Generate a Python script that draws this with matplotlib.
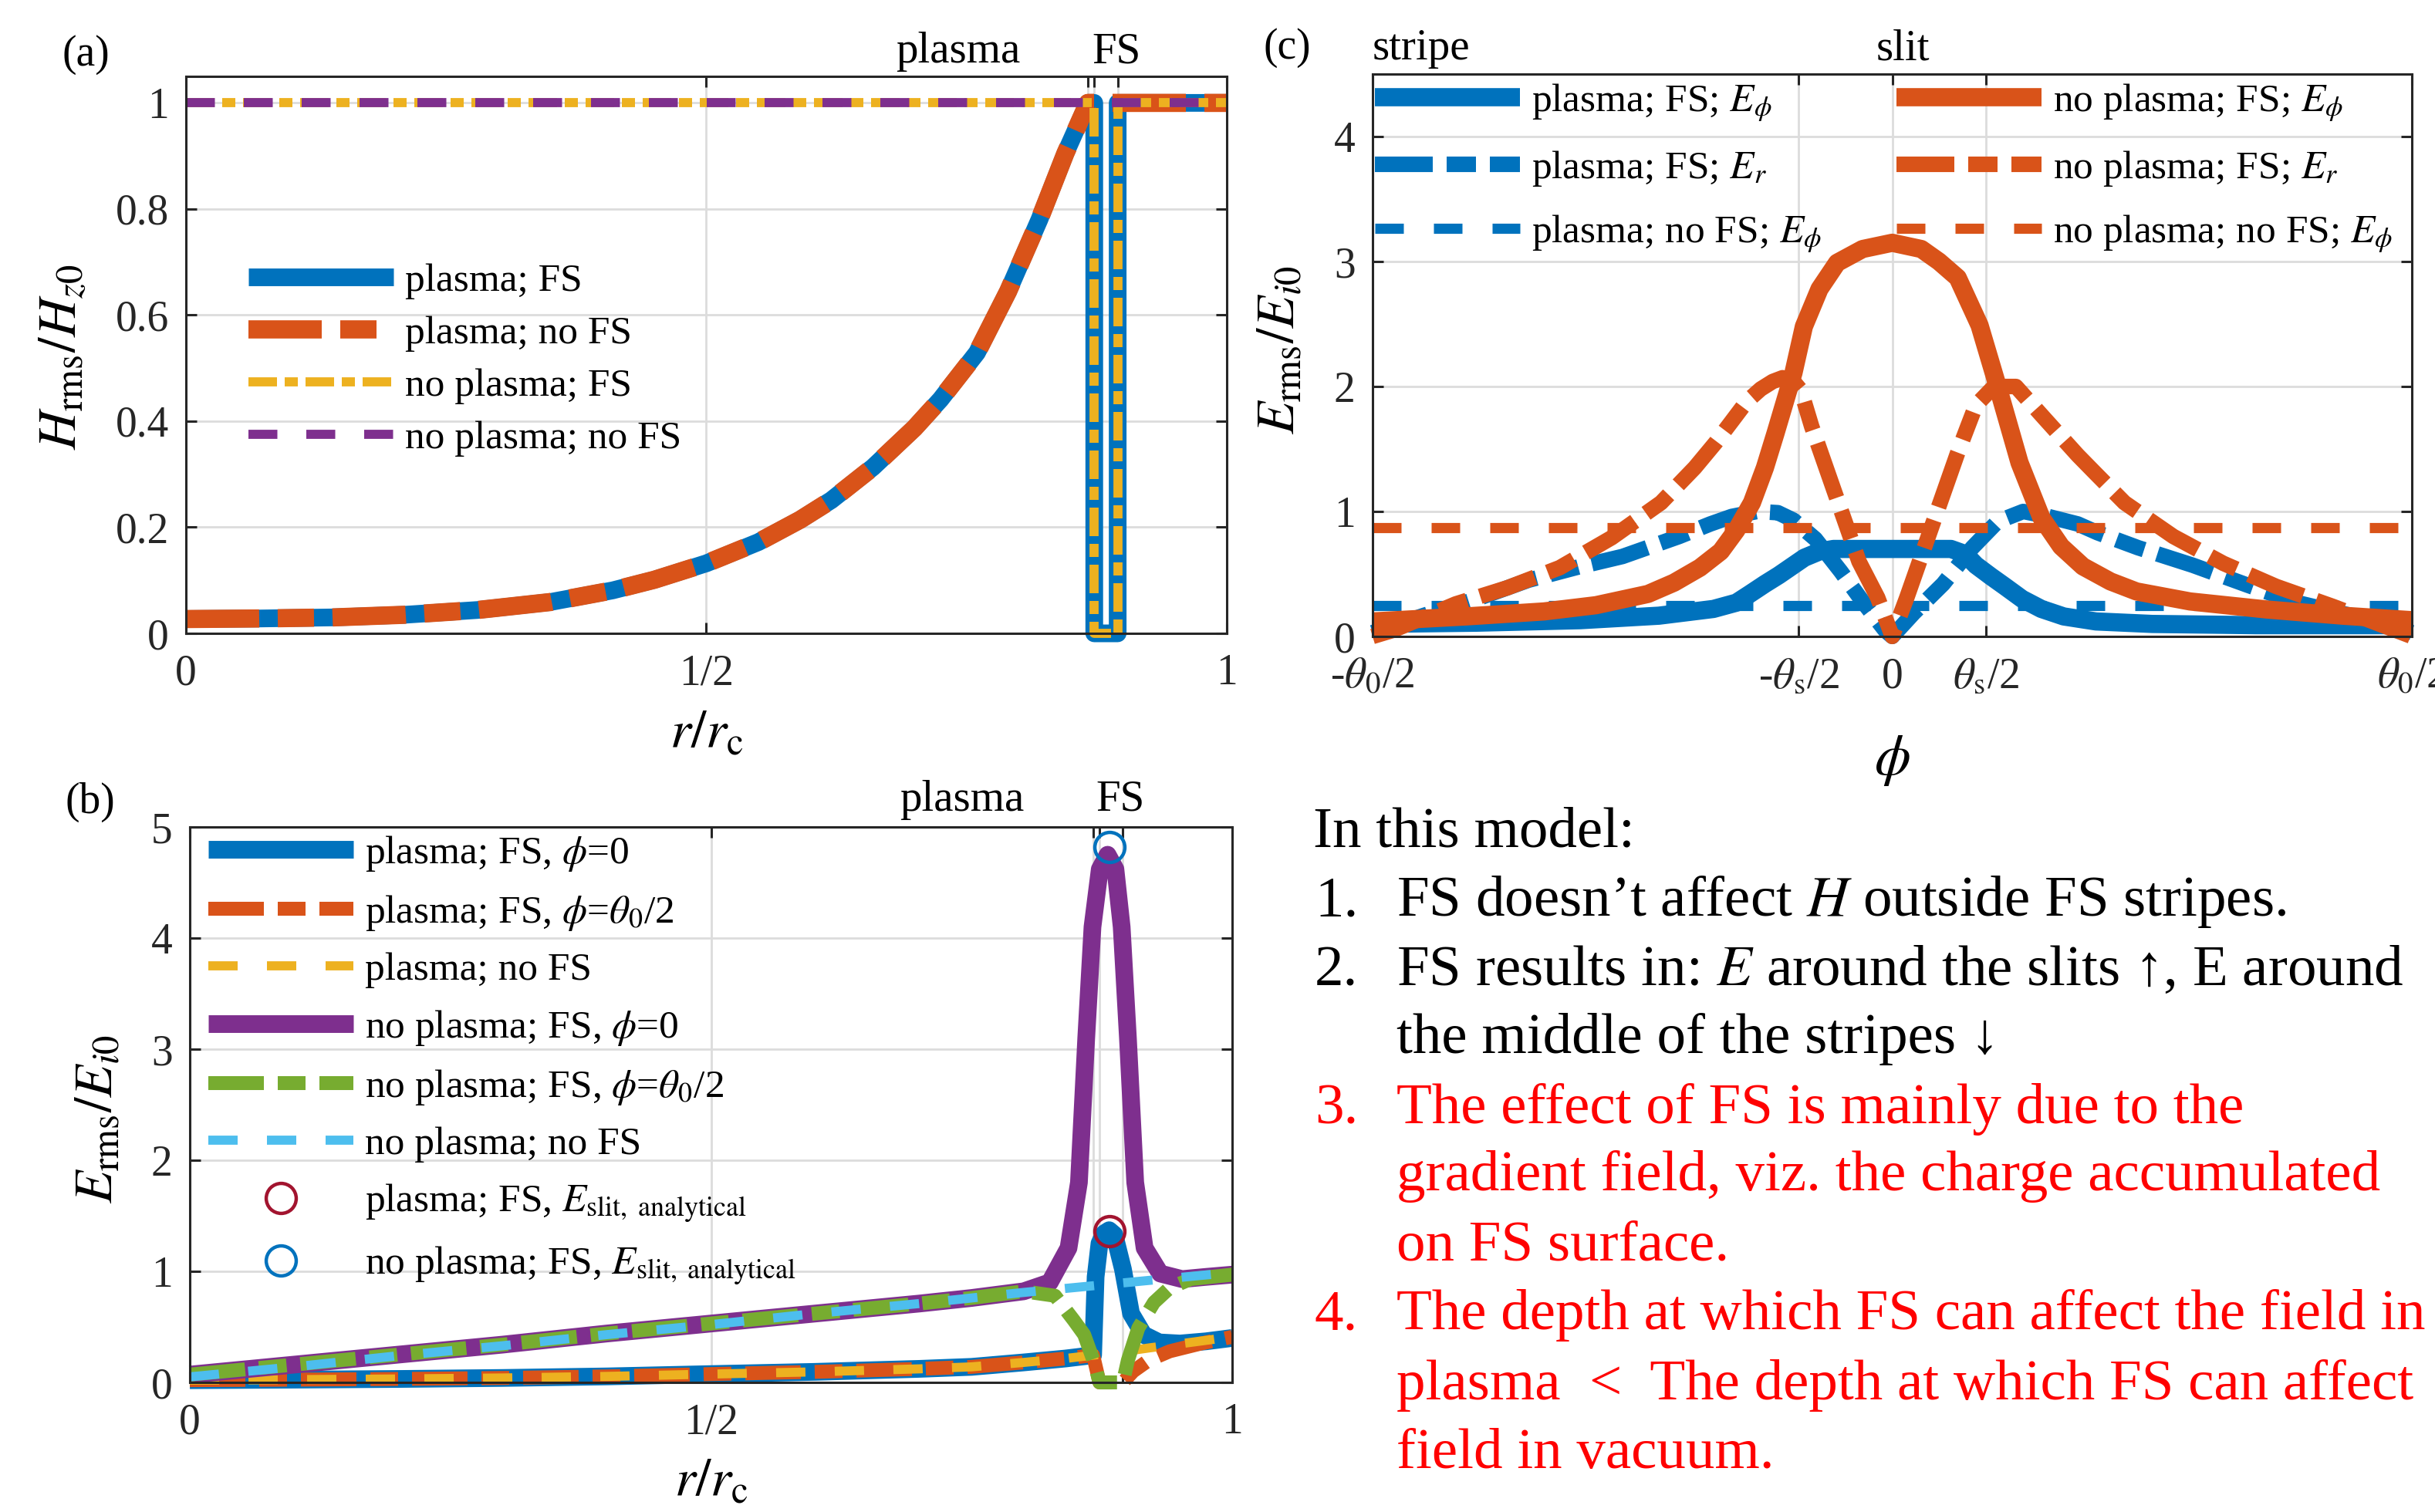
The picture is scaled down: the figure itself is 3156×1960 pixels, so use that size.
import matplotlib
matplotlib.use('Agg')
import matplotlib.pyplot as plt

plt.rcParams['font.family'] = ['Liberation Serif', 'DejaVu Serif']
plt.rcParams['mathtext.fontset'] = 'stix'
plt.rcParams['lines.scale_dashes'] = False
plt.rcParams['lines.solid_joinstyle'] = 'round'
plt.rcParams['lines.dash_joinstyle'] = 'round'
plt.rcParams['lines.solid_capstyle'] = 'butt'
plt.rcParams['lines.dash_capstyle'] = 'butt'
plt.rcParams['axes.linewidth'] = 2.2
plt.rcParams['axes.edgecolor'] = '#262626'

# ---------------- colours ----------------
C_BLUE = '#0072BD'
C_ORANGE = '#D95319'
C_YELLOW = '#EDB120'
C_PURPLE = '#7E2F8E'
C_GREEN = '#77AC30'
C_LBLUE = '#4DBEEE'
C_DRED = '#A2142F'

# ---------------- panel (a) data ----------------
r_a_plasma = [0.0, 0.07, 0.14, 0.21, 0.28, 0.35, 0.41, 0.45, 0.50, 0.55, 0.59, 0.62,
              0.66, 0.70, 0.725, 0.76, 0.79, 0.82, 0.845, 0.8666]
H_a_plasma = [0.027, 0.028, 0.030, 0.035, 0.044, 0.059, 0.081, 0.101, 0.132, 0.172, 0.214,
              0.251, 0.313, 0.387, 0.441, 0.529, 0.645, 0.780, 0.905, 1.0]
r_a_fs = [0.8727, 0.8727, 0.8952, 0.8952, 1.0]
H_a_fs = [1.0, 0.0, 0.0, 1.0, 1.0]
r_a_vac = [1.0]
H_a_vac = [1.0]
r_a_novac = [0.0, 1.0]
H_a_novac = [1.0, 1.0]

# ---------------- panel (b) data ----------------
r_b_low = [0.0, 0.1, 0.2, 0.3, 0.4, 0.5, 0.6, 0.7, 0.75, 0.8, 0.84, 0.8666]
E_b_low = [0.02, 0.025, 0.031, 0.040, 0.054, 0.075, 0.095, 0.122, 0.140, 0.180, 0.215, 0.245]
r_b_pfs0 = [0.869, 0.8727, 0.877, 0.882, 0.887, 0.8952, 0.903, 0.915, 0.93, 0.95, 0.975, 1.0]
E_b_pfs0 = [0.95, 1.25, 1.34, 1.37, 1.33, 1.02, 0.62, 0.43, 0.36, 0.35, 0.37, 0.40]
r_b_pfs2 = [0.8727, 0.8952, 0.905, 0.92, 0.94, 0.97, 1.0]
E_b_pfs2 = [0.0, 0.0, 0.10, 0.20, 0.28, 0.35, 0.41]
r_b_pnofs = [0.89, 0.92, 0.96, 1.0]
E_b_pnofs = [0.27, 0.31, 0.36, 0.41]
r_b_up = [0.0, 0.1, 0.2, 0.3, 0.4, 0.5, 0.6, 0.7, 0.75, 0.8]
E_b_up = [0.07, 0.16, 0.25, 0.34, 0.44, 0.53, 0.62, 0.71, 0.76, 0.82]
r_b_vfs0 = [0.825, 0.843, 0.853, 0.860, 0.866, 0.873, 0.8805, 0.888, 0.894, 0.900, 0.907,
            0.916, 0.931, 0.952, 0.975, 1.0]
E_b_vfs0 = [0.90, 1.21, 1.80, 3.10, 4.10, 4.62, 4.75, 4.62, 4.10, 3.10, 1.80, 1.21, 0.98,
            0.93, 0.95, 0.97]
r_b_vfs2 = [0.83, 0.848, 0.858, 0.868, 0.8727, 0.8952, 0.900, 0.910, 0.925, 0.940, 0.960, 1.0]
E_b_vfs2 = [0.78, 0.56, 0.43, 0.17, 0.0, 0.0, 0.20, 0.49, 0.72, 0.85, 0.93, 0.97]
r_b_vnofs = [0.0, 0.1, 0.2, 0.3, 0.4, 0.5, 0.6, 0.7, 0.8, 0.9, 1.0]
E_b_vnofs = [0.05, 0.14, 0.24, 0.33, 0.43, 0.52, 0.62, 0.71, 0.81, 0.90, 0.99]
r_slit = [0.882]
E_slit_plasma = [1.36]
E_slit_vac = [4.82]

# ---------------- panel (c) data (phi in units of theta0/2) ----------------
phi_c_pfs_phi = [-1.0, -0.8, -0.6, -0.449, -0.344, -0.30, -0.274, -0.245, -0.218, -0.19,
                 -0.169, -0.14, -0.113, -0.06, 0.0, 0.06, 0.113, 0.14, 0.161, 0.19,
                 0.217, 0.25, 0.287, 0.33, 0.392, 0.5, 0.7, 1.0]
E_c_pfs_phi = [0.10, 0.11, 0.13, 0.166, 0.22, 0.27, 0.34, 0.42, 0.49, 0.57,
               0.63, 0.68, 0.70, 0.70, 0.70, 0.70, 0.70, 0.66, 0.57, 0.48,
               0.40, 0.30, 0.22, 0.16, 0.12, 0.10, 0.09, 0.09]
phi_c_pfs_r = [-1.0, -0.9, -0.8, -0.7, -0.6, -0.519, -0.41, -0.35, -0.309, -0.26,
               -0.22, -0.19, -0.148, -0.099, -0.057, -0.014, 0.0,
               0.042, 0.098, 0.154, 0.203, 0.252, 0.30, 0.357, 0.395, 0.473, 0.578,
               0.684, 0.78, 0.931, 1.0]
E_c_pfs_r = [0.03, 0.17, 0.30, 0.45, 0.56, 0.64, 0.80, 0.90, 0.96, 1.00,
             0.99, 0.93, 0.78, 0.52, 0.28, 0.05, 0.0,
             0.19, 0.42, 0.71, 0.92, 1.00, 0.96, 0.90, 0.83, 0.71, 0.57,
             0.41, 0.27, 0.12, 0.03]
phi_c_const = [-1.0, 1.0]
E_c_pnofs_phi = [0.247, 0.247]
phi_c_vfs_phi = [-1.0, -0.82, -0.67, -0.57, -0.47, -0.42, -0.37, -0.33, -0.30, -0.27,
                 -0.245, -0.225, -0.205, -0.19, -0.17, -0.14, -0.106, -0.057, 0.0,
                 0.056, 0.09, 0.126, 0.168, 0.203, 0.245, 0.287, 0.325, 0.367, 0.42,
                 0.47, 0.573, 0.722, 0.87, 1.0]
E_c_vfs_phi = [0.12, 0.16, 0.20, 0.25, 0.34, 0.43, 0.55, 0.68, 0.85, 1.07,
               1.35, 1.62, 1.90, 2.11, 2.48, 2.78, 2.99, 3.10, 3.15,
               3.10, 3.00, 2.87, 2.49, 2.00, 1.39, 0.95, 0.72, 0.56, 0.44,
               0.36, 0.28, 0.215, 0.165, 0.13]
phi_c_vfs_r = [-1.0, -0.96, -0.84, -0.74, -0.64, -0.54, -0.445, -0.38, -0.34, -0.309,
               -0.28, -0.253, -0.23, -0.211, -0.19, -0.176, -0.155, -0.113, -0.064, -0.028,
               0.0, 0.028, 0.077, 0.126, 0.161, 0.196, 0.238, 0.294, 0.357, 0.39,
               0.447, 0.541, 0.637, 0.739, 0.848, 1.0]
E_c_vfs_r = [0.0, 0.05, 0.26, 0.39, 0.55, 0.79, 1.07, 1.35, 1.55, 1.72,
             1.88, 1.98, 2.04, 2.07, 2.04, 1.97, 1.68, 1.18, 0.60, 0.31,
             0.0, 0.31, 0.89, 1.47, 1.85, 2.0, 2.0, 1.74, 1.45, 1.31,
             1.07, 0.80, 0.585, 0.40, 0.24, 0.0]
E_c_vnofs_phi = [0.868, 0.868]

# ---------------- ticks ----------------
r_ticks = [0.0, 0.5, 0.8666, 0.8727, 0.8952, 1.0]
r_ticklabels = ['0', '1/2', '', '', '', '1']
phi_ticks = [-1.0, -0.18, 0.0, 0.18, 1.0]
phi_ticklabels = [r'-$\theta_0$/2', r'-$\theta_{\rm s}$/2', '0', r'$\theta_{\rm s}$/2', r'$\theta_0$/2']

PX = 0.72  # points per pixel at dpi 100


def dsh(*px):
    return [v * PX for v in px]


def style(ax, xt, xtl, yt, ytl, xlim, ylim):
    ax.set_xlim(xlim)
    ax.set_ylim(ylim)
    ax.set_xticks(xt)
    ax.set_xticklabels(xtl)
    ax.set_yticks(yt)
    ax.set_yticklabels(ytl)
    ax.tick_params(direction='in', length=10, width=2.2, top=True, right=True,
                   labelsize=40, color='#262626', labelcolor='#262626')
    ax.tick_params(axis='x', pad=19)
    ax.tick_params(axis='y', pad=16)
    ax.grid(True, color='#dcdcdc', linewidth=2)
    ax.set_axisbelow(True)


def labels(ax, xl, xy, yl, yxy):
    ax.set_xlabel(xl, fontsize=50, va='baseline')
    ax.xaxis.set_label_coords(*xy)
    ax.set_ylabel(yl, fontsize=50, va='center')
    ax.yaxis.set_label_coords(*yxy)


LEG = dict(frameon=False, fontsize=37, handlelength=3.66, handletextpad=0.29,
           borderpad=0, borderaxespad=0, loc='upper left')

fig = plt.figure(figsize=(31.56, 19.6), dpi=100)
axA = fig.add_axes([0.07636, 0.58112, 0.42744, 0.36837])
axB = fig.add_axes([0.07795, 0.08571, 0.42807, 0.36735])
axC = fig.add_axes([0.56369, 0.57908, 0.42681, 0.37194])

# ================= panel (a) =================
a1, = axA.plot(r_a_plasma + r_a_fs, H_a_plasma + H_a_fs, color=C_BLUE, lw=16.5,
               label='plasma; FS', clip_on=False)
a2, = axA.plot(r_a_plasma + r_a_vac, H_a_plasma + H_a_vac, color=C_ORANGE, lw=17,
               dashes=dsh(95, 24, 47, 24), label='plasma; no FS', clip_on=False)
a3, = axA.plot([0.0] + r_a_fs, [1.0] + H_a_fs, color=C_YELLOW, lw=8.5,
               dashes=dsh(37, 10, 17, 10), label='no plasma; FS', clip_on=False)
a4, = axA.plot(r_a_novac, H_a_novac, color=C_PURPLE, lw=8.5,
               dashes=dsh(37.5, 37.5), label='no plasma; no FS', clip_on=False)
style(axA, r_ticks, r_ticklabels, [0, 0.2, 0.4, 0.6, 0.8, 1.0],
      ['0', '0.2', '0.4', '0.6', '0.8', '1'], (0, 1), (0, 1.05))
labels(axA, r'$r/r_{\rm c}$', (0.5, -0.205), r'$H_{\rm rms}/H_{z0}$', (-0.118, 0.496))
axA.legend(handles=[a1, a2, a3, a4], bbox_to_anchor=(0.060, 0.665),
           labelspacing=0.41, **LEG)
axA.text(0.742, 1.044, 'plasma', transform=axA.get_xaxis_transform(), ha='center',
         va='center', fontsize=41)
axA.text(0.894, 1.044, 'FS', transform=axA.get_xaxis_transform(), ha='center',
         va='center', fontsize=41)

# ================= panel (b) =================
b1, = axB.plot(r_b_low + r_b_pfs0, E_b_low + E_b_pfs0, color=C_BLUE, lw=16.5,
               label=r'plasma; FS, $\phi$=0', clip_on=False)
b2, = axB.plot(r_b_low + r_b_pfs2, E_b_low + E_b_pfs2, color=C_ORANGE, lw=13,
               dashes=dsh(72, 18, 36, 18), label=r'plasma; FS, $\phi$=$\theta_0$/2', clip_on=False)
b3, = axB.plot(r_b_low + r_b_pnofs, E_b_low + E_b_pnofs, color=C_YELLOW, lw=8.5,
               dashes=dsh(38, 38), label='plasma; no FS', clip_on=False)
b4, = axB.plot(r_b_up + r_b_vfs0, E_b_up + E_b_vfs0, color=C_PURPLE, lw=16.5,
               label=r'no plasma; FS, $\phi$=0', clip_on=False)
b5, = axB.plot(r_b_up + r_b_vfs2, E_b_up + E_b_vfs2, color=C_GREEN, lw=13,
               dashes=dsh(72, 18, 36, 18), label=r'no plasma; FS, $\phi$=$\theta_0$/2', clip_on=False)
b6, = axB.plot(r_b_vnofs, E_b_vnofs, color=C_LBLUE, lw=8.5,
               dashes=dsh(38, 38), label='no plasma; no FS', clip_on=False)
b7, = axB.plot(r_slit, E_slit_plasma, linestyle='none', marker='o', markersize=28,
               markerfacecolor='none', markeredgecolor=C_DRED, markeredgewidth=3.2,
               label=r'plasma; FS, $E_{\rm slit,\ analytical}$', clip_on=False)
b8, = axB.plot(r_slit, E_slit_vac, linestyle='none', marker='o', markersize=28,
               markerfacecolor='none', markeredgecolor=C_BLUE, markeredgewidth=3.2,
               label=r'no plasma; FS, $E_{\rm slit,\ analytical}$', clip_on=False)
style(axB, r_ticks, r_ticklabels, [0, 1, 2, 3, 4, 5],
      ['0', '1', '2', '3', '4', '5'], (0, 1), (0, 5))
labels(axB, r'$r/r_{\rm c}$', (0.5, -0.204), r'$E_{\rm rms}/E_{i0}$', (-0.087, 0.474))
axB.legend(handles=[b1, b2, b3, b4, b5, b6, b7, b8], bbox_to_anchor=(0.0178, 0.9875),
           labelspacing=0.5, **LEG)
axB.text(0.741, 1.049, 'plasma', transform=axB.get_xaxis_transform(), ha='center',
         va='center', fontsize=41)
axB.text(0.893, 1.049, 'FS', transform=axB.get_xaxis_transform(), ha='center',
         va='center', fontsize=41)

# ================= panel (c) =================
c1, = axC.plot(phi_c_pfs_phi, E_c_pfs_phi, color=C_BLUE, lw=17,
               label=r'plasma; FS; $E_\phi$', clip_on=False)
c2, = axC.plot(phi_c_pfs_r, E_c_pfs_r, color=C_BLUE, lw=14.5, dashes=dsh(75, 18, 38, 18),
               label=r'plasma; FS; $E_r$', clip_on=False)
c3, = axC.plot(phi_c_const, E_c_pnofs_phi, color=C_BLUE, lw=9.5, dashes=dsh(37, 39),
               label=r'plasma; no FS; $E_\phi$', clip_on=False)
c4, = axC.plot(phi_c_vfs_phi, E_c_vfs_phi, color=C_ORANGE, lw=17,
               label=r'no plasma; FS; $E_\phi$', clip_on=False)
c5, = axC.plot(phi_c_vfs_r, E_c_vfs_r, color=C_ORANGE, lw=14.5, dashes=dsh(75, 18, 38, 18),
               label=r'no plasma; FS; $E_r$', clip_on=False)
c6, = axC.plot(phi_c_const, E_c_vnofs_phi, color=C_ORANGE, lw=9.5, dashes=dsh(37, 39),
               label=r'no plasma; no FS; $E_\phi$', clip_on=False)
style(axC, phi_ticks, phi_ticklabels, [0, 1, 2, 3, 4],
      ['0', '1', '2', '3', '4'], (-1, 1), (0, 4.5))
labels(axC, r'$\phi$', (0.5, -0.245), r'$E_{\rm rms}/E_{i0}$', (-0.088, 0.509))
axC.xaxis.label.set_fontsize(54)
legC1 = axC.legend(handles=[c1, c2, c3], bbox_to_anchor=(0.002, 0.985),
                   labelspacing=0.64, **LEG)
axC.add_artist(legC1)
axC.legend(handles=[c4, c5, c6], bbox_to_anchor=(0.504, 0.985),
           labelspacing=0.64, **LEG)
axC.text(-1.0, 1.045, 'stripe', transform=axC.get_xaxis_transform(), ha='left',
         va='center', fontsize=41)
axC.text(0.02, 1.045, 'slit', transform=axC.get_xaxis_transform(), ha='center',
         va='center', fontsize=41)

# ================= panel labels =================
fig.text(0.0352, 0.9638, '(a)', ha='center', va='center', fontsize=40)
fig.text(0.0371, 0.4694, '(b)', ha='center', va='center', fontsize=40)
fig.text(0.5285, 0.9684, '(c)', ha='center', va='center', fontsize=40)

# ================= notes =================
notes = [
    ('', 'In this model:', 'black', 1098),
    ('1.', 'FS doesn\u2019t affect $H$ outside FS stripes.', 'black', 1187),
    ('2.', 'FS results in: $E$ around the slits \u2191, E around', 'black', 1277),
    ('', 'the middle of the stripes \u2193', 'black', 1365),
    ('3.', 'The effect of FS is mainly due to the', 'red', 1456),
    ('', 'gradient field, viz. the charge accumulated', 'red', 1543),
    ('', 'on FS surface.', 'red', 1633),
    ('4.', 'The depth at which FS can affect the field in', 'red', 1723),
    ('', 'plasma  <  The depth at which FS can affect', 'red', 1814),
    ('', 'field in vacuum.', 'red', 1903),
]
W, Hh = 3156.0, 1960.0
FAM = ['Liberation Serif', 'DejaVu Sans']
for num, txt, col, ypx in notes:
    yf = 1 - ypx / Hh
    if txt == 'In this model:':
        fig.text(1702 / W, yf, txt, color=col, fontsize=54, va='baseline', ha='left',
                 family=FAM)
        continue
    if num:
        fig.text(1704 / W, yf, num, color=col, fontsize=54, va='baseline', ha='left',
                 family=FAM)
    fig.text(1810 / W, yf, txt, color=col, fontsize=54, va='baseline', ha='left',
             family=FAM)

fig.savefig('out.png', dpi=100)
